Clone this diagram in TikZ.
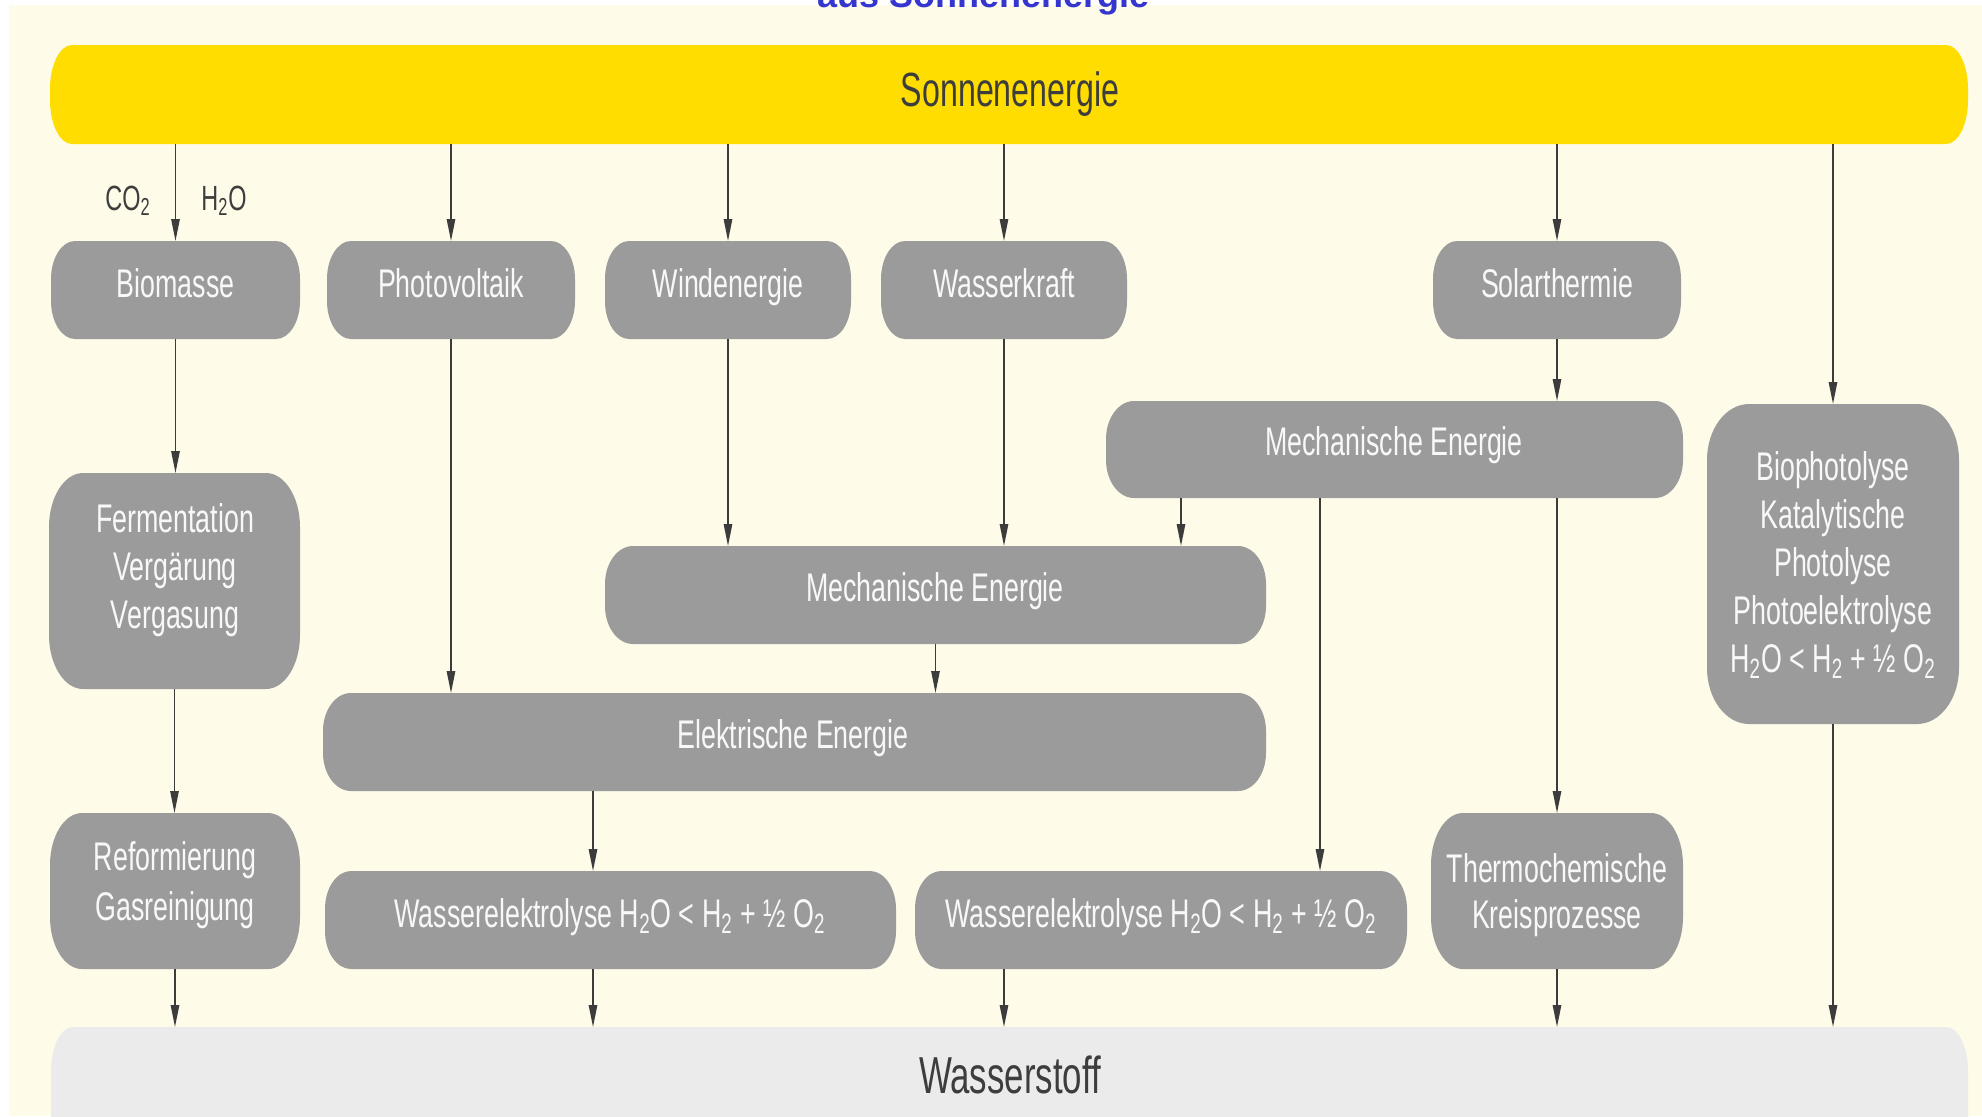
\documentclass[tikz,border=0pt]{standalone}
\usepackage{fontspec}
\setmainfont{Liberation Sans}[FakeStretch=0.67]
\newfontfamily\titlefont{Liberation Sans}
\usetikzlibrary{arrows.meta}
\definecolor{cream}{HTML}{FEFBE9}
\definecolor{sunyellow}{HTML}{FFDD00}
\definecolor{boxgray}{HTML}{9B9B9B}
\definecolor{hgray}{HTML}{EBEBEB}
\definecolor{linegray}{HTML}{3C3C3C}
\definecolor{darktext}{HTML}{3D3D3D}
\definecolor{boxtext}{HTML}{F8F8F8}
\definecolor{titleblue}{HTML}{3535D0}
\newcommand{\lnTop}{\rule{0pt}{16pt}}
\newcommand{\lnBot}{\rule[-16pt]{0pt}{16pt}}
% \pillshape{fill}{x0}{y0}{x1}{y1}{rx}{ry}
\newcommand{\pillshape}[7]{%
  \fill[#1] ({#2+#6},#3) -- ({#4-#6},#3)
    .. controls ({#4-0.448*#6},#3) and (#4,{#3+0.448*#7}) .. (#4,{#3+#7})
    -- (#4,{#5-#7})
    .. controls (#4,{#5-0.448*#7}) and ({#4-0.448*#6},#5) .. ({#4-#6},#5)
    -- ({#2+#6},#5)
    .. controls ({#2+0.448*#6},#5) and (#2,{#5-0.448*#7}) .. (#2,{#5-#7})
    -- (#2,{#3+#7})
    .. controls (#2,{#3+0.448*#7}) and ({#2+0.448*#6},#3) .. ({#2+#6},#3) -- cycle;}
% \pillnode{name}{x0}{y0}{x1}{y1}{rx}{ry}{fill}
\newcommand{\pillnode}[8]{%
  \pillshape{#8}{#2}{#3}{#4}{#5}{#6}{#7}
  \node[frame, minimum width={(#4-#2)*0.5pt}, minimum height={(#5-#3)*0.5pt}]
    (#1) at ({(#2+#4)/2},{(#3+#5)/2}) {};}
\begin{document}
\begin{tikzpicture}[x=0.5pt,y=-0.5pt,
  frame/.style={draw=none, fill=none, inner sep=0pt, outer sep=0pt, rectangle},
  btext/.style={text=boxtext, font=\fontsize{20}{24}\selectfont, inner sep=0pt, align=center},
  arr/.style={draw=linegray, line width=0.8pt, -{Triangle[length=11pt,width=4.2pt]}},
  chem/.style={text=darktext, font=\fontsize{17.5}{20}\selectfont, inner sep=0pt, anchor=base}]
\useasboundingbox (0,0) rectangle (1982,1116);
\clip (0,0) rectangle (1982,1116);
\fill[cream] (9,5) rectangle (1982,1116);
\node[text=titleblue, font=\titlefont\bfseries\fontsize{18}{20}\selectfont, inner sep=0pt, anchor=base] (title) at (998,7) {aus Sonnenenergie\,\textsuperscript{1)}};

% top and bottom bars
\pillnode{sonne}{50}{45}{1968}{144}{22}{44}{sunyellow}
\node[text=darktext, font=\fontsize{24}{28}\selectfont, inner sep=0pt, anchor=base] (sonne-t) at (1010,106) {Sonnenenergie};
\pillnode{h2}{51}{1027}{1968}{1190}{22}{44}{hgray}
\node[text=darktext, font=\fontsize{26}{30}\selectfont, inner sep=0pt, anchor=base] (h2-t) at (1010,1093) {Wasserstoff};

% first row
\pillnode{bio}{51}{241}{300}{339}{24}{38}{boxgray}
\node[btext, anchor=base] (bio-t) at (175.5,297) {Biomasse};
\pillnode{pv}{327}{241}{575}{339}{24}{38}{boxgray}
\node[btext, anchor=base] (pv-t) at (451,297) {Photovoltaik};
\pillnode{wind}{605}{241}{851}{339}{24}{38}{boxgray}
\node[btext, anchor=base] (wind-t) at (728,297) {Windenergie};
\pillnode{wk}{881}{241}{1127}{339}{24}{38}{boxgray}
\node[btext, anchor=base] (wk-t) at (1004,297) {Wasserkraft};
\pillnode{st}{1433}{241}{1681}{339}{24}{38}{boxgray}
\node[btext, anchor=base] (st-t) at (1557,297) {Solarthermie};

% labels at biomass arrow
\node[chem] (co2) at (128,210) {CO\textsubscript{2}};
\node[chem] (h2o) at (224,210) {H\textsubscript{2}O};

% energy boxes
\pillnode{mechU}{1106}{401}{1683}{498}{28}{38}{boxgray}
\node[btext, anchor=base] (mechU-t) at (1394,455) {Mechanische Energie};
\pillnode{mechM}{605}{546}{1266}{644}{28}{38}{boxgray}
\node[btext, anchor=base] (mechM-t) at (935,601) {Mechanische Energie};
\pillnode{elek}{323}{693}{1266}{791}{28}{38}{boxgray}
\node[btext, anchor=base] (elek-t) at (793,748) {Elektrische Energie};

% left column
\pillnode{ferm}{49}{473}{300}{689}{34}{54}{boxgray}
\node[btext] (ferm-t) at (175,580) {\lnTop Fermentation\\Vergärung\\Vergasung\lnBot};
\pillnode{ref}{50}{813}{300}{969}{32}{52}{boxgray}
\node[btext, font=\fontsize{20}{25}\selectfont] (ref-t) at (175,895) {\lnTop Reformierung\\Gasreinigung\lnBot};

% electrolysis and thermochemistry
\pillnode{we1}{325}{871}{896}{969}{26}{38}{boxgray}
\node[btext, anchor=base] (we1-t) at (610,927) {Wasserelektrolyse H\textsubscript{2}O < H\textsubscript{2} + ½ O\textsubscript{2}};
\pillnode{we2}{915}{871}{1407}{969}{26}{38}{boxgray}
\node[btext, anchor=base] (we2-t) at (1161,927) {Wasserelektrolyse H\textsubscript{2}O < H\textsubscript{2} + ½ O\textsubscript{2}};
\pillnode{thermo}{1431}{813}{1683}{969}{32}{52}{boxgray}
\node[btext, font=\fontsize{20}{23}\selectfont] (thermo-t) at (1557,905) {\lnTop Thermochemische\\Kreisprozesse\lnBot};

% photolysis
\pillnode{bph}{1707}{404}{1959}{724}{42}{56}{boxgray}
\node[btext] (bph-t) at (1833,576) {\lnTop Biophotolyse\\Katalytische\\Photolyse\\Photoelektrolyse\\H\textsubscript{2}O < H\textsubscript{2} + ½ O\textsubscript{2}\lnBot};

% lanes for off-centre connectors
\coordinate (lMUa) at (1181,0);
\coordinate (lMUb) at (1320,0);
\coordinate (lWE1) at (593,0);

% connectors
\draw[arr] (sonne.south -| bio.north) -- (bio.north);
\draw[arr] (sonne.south -| pv.north) -- (pv.north);
\draw[arr] (sonne.south -| wind.north) -- (wind.north);
\draw[arr] (sonne.south -| wk.north) -- (wk.north);
\draw[arr] (sonne.south -| st.north) -- (st.north);
\draw[arr] (sonne.south -| bph.north) -- (bph.north);
\draw[arr] (bio.south) -- (bio.south |- ferm.north);
\draw[arr] (ferm.south) -- (ferm.south |- ref.north);
\draw[arr] (ref.south) -- (ref.south |- h2.north);
\draw[arr] (pv.south) -- (pv.south |- elek.north);
\draw[arr] (wind.south) -- (wind.south |- mechM.north);
\draw[arr] (wk.south) -- (wk.south |- mechM.north);
\draw[arr] (st.south) -- (st.south |- mechU.north);
\draw[arr] (mechU.south -| lMUa) -- (mechM.north -| lMUa);
\draw[arr] (mechU.south -| lMUb) -- (we2.north -| lMUb);
\draw[arr] (mechU.south -| thermo.north) -- (thermo.north);
\draw[arr] (mechM.south) -- (mechM.south |- elek.north);
\draw[arr] (elek.south -| lWE1) -- (we1.north -| lWE1);
\draw[arr] (we1.south -| lWE1) -- (h2.north -| lWE1);
\draw[arr] (we2.south -| wk.south) -- (h2.north -| wk.south);
\draw[arr] (thermo.south) -- (thermo.south |- h2.north);
\draw[arr] (bph.south) -- (bph.south |- h2.north);
\end{tikzpicture}
\end{document}
